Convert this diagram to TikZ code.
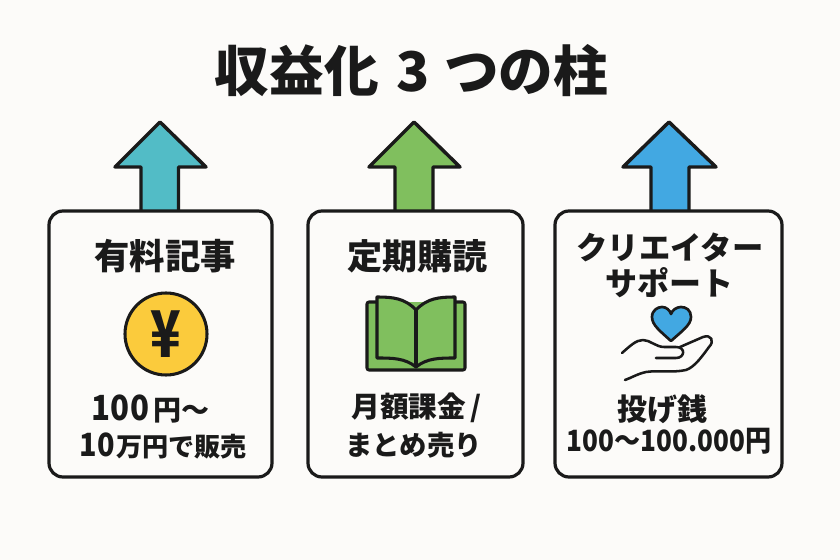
\documentclass[tikz,border=0pt]{standalone}
\usepackage{fontspec}
\setmainfont{Noto Sans CJK JP}
\definecolor{bg}{HTML}{FCFBF9}
\definecolor{ink}{HTML}{1A1A1A}
\definecolor{teal}{HTML}{52BCC6}
\definecolor{leaf}{HTML}{80BF5E}
\definecolor{sky}{HTML}{42A8E2}
\definecolor{coin}{HTML}{FBCB3C}
\newcommand{\fs}[1]{\fontsize{#1}{#1}\selectfont}
\newcommand{\narrow}[2]{\scalebox{#1}[1]{#2}}
\tikzset{
  x=0.75pt,y=-0.75pt,
  panel/.style={draw=ink,line width=2.4pt,rounded corners=10.5pt,fill=bg,inner sep=0pt,minimum height=199.5pt},
  arrowshape/.style={draw=ink,line width=2.6pt,line join=round},
  icon/.style={draw=ink,line width=2.3pt,line join=round},
  hand/.style={draw=ink,line width=1.9pt,line cap=round,line join=round},
  label/.style={text=ink,inner sep=0pt,font=\bfseries},
}
\begin{document}
\begin{tikzpicture}
\useasboundingbox (0,0) rectangle (840,560);
\fill[bg] (0,0) rectangle (840,560);
% title
\node[label] (title) at (411.5,71) {\fs{41}収益化\hspace{13pt}3\hspace{11pt}つの柱};
% arrows
\draw[arrowshape,fill=teal] (160,122) -- (206,167) -- (178.5,167) -- (178.5,213) -- (141,213) -- (141,167) -- (115,167) -- cycle;
\draw[arrowshape,fill=leaf] (414,122) -- (460,167) -- (433,167) -- (433,213) -- (395,213) -- (395,167) -- (369,167) -- cycle;
\draw[arrowshape,fill=sky] (669,122) -- (716,167) -- (689,167) -- (689,213) -- (651,213) -- (651,167) -- (623,167) -- cycle;
% panels
\node[panel,minimum width=167.25pt] (p1) at (160.5,344) {};
\node[panel,minimum width=161.25pt] (p2) at (415.5,344) {};
\node[panel,minimum width=170.25pt] (p3) at (668.5,344) {};
% panel 1
\node[label] (h1) at (165,256) {\fs{26.5}有料記事};
\draw[icon,fill=coin] (166,334) circle (41);
\node[label] (yen) at (166,334) {\scalebox{.82}[1.05]{\fs{46}¥}};
\node[label] (a1) at (150.5,409) {\narrow{.9}{\fs{26}100}\hspace{3pt}\fs{21}円〜};
\node[label] (b1) at (163.5,446) {\narrow{.9}{\fs{24}10}\hspace{1pt}\fs{19.6}万円で販売};
% panel 2
\node[label] (h2) at (417.5,256) {\fs{26.3}定期購読};
\draw[icon,fill=leaf,rounded corners=1.5pt] (377,302) -- (367,302) -- (367,370) -- (465,370) -- (465,302) -- (455,302);
\draw[icon,fill=leaf] (416,367) .. controls (405,358) and (392,358) .. (377,358) -- (377,297) .. controls (392,297) and (405,298) .. (416,310) .. controls (427,298) and (440,297) .. (455,297) -- (455,358) .. controls (440,358) and (427,358) .. (416,367) -- cycle;
\draw[icon] (416,310) -- (416,367);
\node[label] (a2) at (416.5,408) {\fs{21.5}月額課金\hspace{3pt}/};
\node[label] (b2) at (413.5,445) {\fs{20.5}まとめ売り};
% panel 3
\node[label] (h3a) at (670,247) {\fs{23.5}クリエイター};
\node[label] (h3b) at (669.5,283) {\fs{24}サポート};
\draw[icon,fill=sky,line width=2pt] (671,341) .. controls (660,331) and (652,325) .. (652,317) .. controls (652,310) and (658,307) .. (662,307) .. controls (666,307) and (670,310) .. (671,314) .. controls (672,310) and (677,307) .. (681,307) .. controls (686,307) and (691,310) .. (691,317) .. controls (691,325) and (682,331) .. (671,341) -- cycle;
\draw[hand] (622,353) .. controls (630,346) and (636,340) .. (643,340) .. controls (650,340) and (656,347) .. (664,347) -- (676,347) .. controls (686,347) and (685,358) .. (676,358) -- (656,358);
\draw[hand] (680,347) -- (703,337) .. controls (711,334) and (715,341) .. (709,347) .. controls (703,355) and (695,367) .. (686,370) .. controls (672,373) and (660,370) .. (646,372) .. controls (637,374) and (631,378) .. (625,380);
\node[label] (a3) at (662.5,409) {\fs{22.5}投げ銭};
\node[label] (b3) at (669,441) {\narrow{.89}{\fs{22}100〜100.000円}};
\end{tikzpicture}
\end{document}
